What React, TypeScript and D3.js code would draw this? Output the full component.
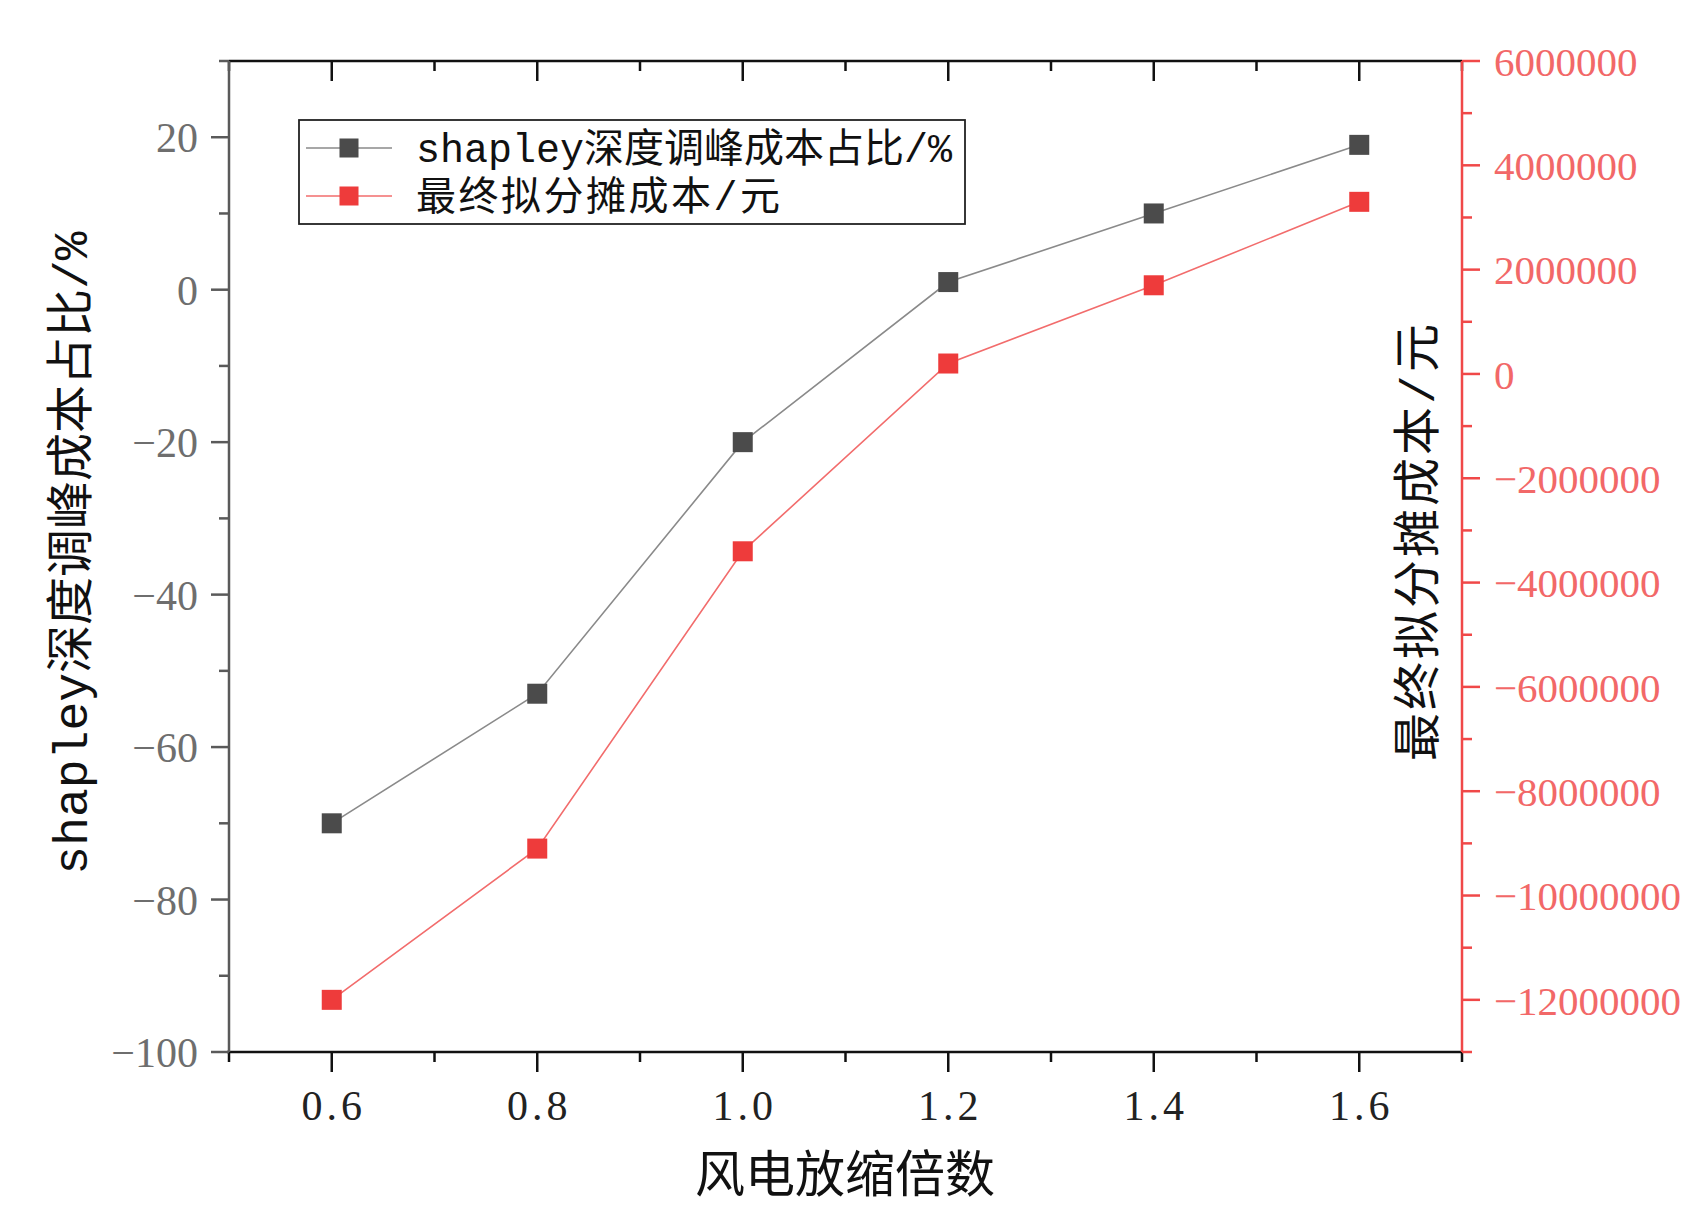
import React from "react";
import * as d3 from "d3";

// ---- data ----
const scaleFactors = [0.6, 0.8, 1.0, 1.2, 1.4, 1.6];
const shapleyShare = [-70, -53, -20, 1, 10, 19];
const finalCost = [-12000000, -9100000, -3400000, 200000, 1700000, 3300000];

const xMajorTicks = [0.6, 0.8, 1.0, 1.2, 1.4, 1.6];
const xMinorTicks = [0.5, 0.7, 0.9, 1.1, 1.3, 1.5, 1.7];
const leftMajorTicks = [-100, -80, -60, -40, -20, 0, 20];
const leftMinorTicks = [-90, -70, -50, -30, -10, 10, 30];
const rightMajorTicks = [-12000000, -10000000, -8000000, -6000000, -4000000, -2000000, 0, 2000000, 4000000, 6000000];
const rightMinorTicks = [-13000000, -11000000, -9000000, -7000000, -5000000, -3000000, -1000000, 1000000, 3000000, 5000000];

const seriesNames = ["shapley深度调峰成本占比/%", "最终拟分摊成本/元"];
const xTitle = "风电放缩倍数";
const leftTitle = "shapley深度调峰成本占比/%";
const rightTitle = "最终拟分摊成本/元";

// ---- layout ----
const W = 1688;
const H = 1208;
const L = 229, R = 1462, T = 61, B = 1052;

const BLACK_MARK = "#4b4b4b";
const BLACK_LINE = "#8a8a8a";
const RED_MARK = "#ee3b3b";
const RED_LINE = "#f26c6c";
const RED_AXIS = "#f04848";
const RED_LABEL = "#f26868";
const GRAY_AXIS = "#5a5a5a";
const GRAY_LABEL = "#6e6e6e";

const SERIF = "'Liberation Serif', 'Times New Roman', serif";
const MIXED = "'Liberation Mono', 'Noto Sans CJK SC', monospace";
const CJK = "'Noto Sans CJK SC', sans-serif";

export default function App() {
  const x = d3.scaleLinear().domain([0.5, 1.7]).range([L, R]);
  const yL = d3.scaleLinear().domain([-100, 30]).range([B, T]);
  const yR = d3.scaleLinear().domain([-13000000, 6000000]).range([B, T]);

  const fmtX = d3.format(".1f");
  const fmtL = d3.format("d");
  const fmtR = d3.format("d");

  const blackPts: [number, number][] = scaleFactors.map((v, i) => [x(v), yL(shapleyShare[i])]);
  const redPts: [number, number][] = scaleFactors.map((v, i) => [x(v), yR(finalCost[i])]);
  const line = d3.line();

  const M = 20; // marker size
  const LM = 19;

  const legendX = 299, legendY = 120, legendW = 666, legendH = 104;
  const row1 = 148, row2 = 196;

  return (
    <svg width={W} height={H} style={{ position: "absolute", left: 0, top: 0, background: "#fff" }}>
      <rect x={0} y={0} width={W} height={H} fill="#fff" />

      {/* top axis */}
      <line x1={L} x2={R} y1={T} y2={T} stroke="#111" strokeWidth={2.5} />
      {xMajorTicks.map((t) => (
        <line key={"tM" + t} x1={x(t)} x2={x(t)} y1={T} y2={T + 20} stroke="#111" strokeWidth={2.5} />
      ))}
      {xMinorTicks.map((t) => (
        <line key={"tm" + t} x1={x(t)} x2={x(t)} y1={T} y2={T + 10} stroke="#111" strokeWidth={2.5} />
      ))}

      {/* bottom axis */}
      <line x1={L - 2} x2={R} y1={B} y2={B} stroke="#111" strokeWidth={2.5} />
      {xMajorTicks.map((t) => (
        <line key={"bM" + t} x1={x(t)} x2={x(t)} y1={B} y2={B + 20} stroke="#111" strokeWidth={2.5} />
      ))}
      {xMinorTicks.map((t) => (
        <line key={"bm" + t} x1={x(t)} x2={x(t)} y1={B} y2={B + 10} stroke="#111" strokeWidth={2.5} />
      ))}
      {xMajorTicks.map((t) => (
        <text key={"bl" + t} x={x(t) + 2} y={1120} textAnchor="middle" fontFamily={SERIF} fontSize={42}
          letterSpacing={4} fill="#222">{fmtX(t)}</text>
      ))}

      {/* left axis */}
      <line x1={L} x2={L} y1={T} y2={B} stroke={GRAY_AXIS} strokeWidth={2.5} />
      {leftMajorTicks.map((t) => (
        <line key={"lM" + t} x1={L - 18} x2={L} y1={yL(t)} y2={yL(t)} stroke={GRAY_AXIS} strokeWidth={2.5} />
      ))}
      {leftMinorTicks.map((t) => (
        <line key={"lm" + t} x1={L - 10} x2={L} y1={yL(t)} y2={yL(t)} stroke={GRAY_AXIS} strokeWidth={2.5} />
      ))}
      {leftMajorTicks.map((t) => (
        <text key={"ll" + t} x={L - 31} y={yL(t)} dy="0.36em" textAnchor="end" fontFamily={SERIF} fontSize={42}
          fill={GRAY_LABEL}>{fmtL(t)}</text>
      ))}

      {/* right axis */}
      <line x1={R} x2={R} y1={T} y2={B} stroke={RED_AXIS} strokeWidth={2.5} />
      {rightMajorTicks.map((t) => (
        <line key={"rM" + t} x1={R} x2={R + 18} y1={yR(t)} y2={yR(t)} stroke={RED_AXIS} strokeWidth={2.5} />
      ))}
      {rightMinorTicks.map((t) => (
        <line key={"rm" + t} x1={R} x2={R + 10} y1={yR(t)} y2={yR(t)} stroke={RED_AXIS} strokeWidth={2.5} />
      ))}
      {rightMajorTicks.map((t) => (
        <text key={"rl" + t} x={R + 32} y={yR(t)} dy="0.36em" textAnchor="start" fontFamily={SERIF} fontSize={41}
          fill={RED_LABEL}>{fmtR(t)}</text>
      ))}

      {/* series lines */}
      <path d={line(blackPts) || ""} fill="none" stroke={BLACK_LINE} strokeWidth={1.6} />
      <path d={line(redPts) || ""} fill="none" stroke={RED_LINE} strokeWidth={1.6} />
      {blackPts.map((p, i) => (
        <rect key={"bp" + i} x={p[0] - M / 2} y={p[1] - M / 2} width={M} height={M} fill={BLACK_MARK} />
      ))}
      {redPts.map((p, i) => (
        <rect key={"rp" + i} x={p[0] - M / 2} y={p[1] - M / 2} width={M} height={M} fill={RED_MARK} />
      ))}

      {/* legend */}
      <rect x={legendX} y={legendY} width={legendW} height={legendH} fill="#fff" stroke="#222" strokeWidth={1.8} />
      <line x1={306} x2={392} y1={row1} y2={row1} stroke={BLACK_LINE} strokeWidth={1.6} />
      <rect x={349 - LM / 2} y={row1 - LM / 2} width={LM} height={LM} fill={BLACK_MARK} />
      <line x1={306} x2={392} y1={row2} y2={row2} stroke={RED_LINE} strokeWidth={1.6} />
      <rect x={349 - LM / 2} y={row2 - LM / 2} width={LM} height={LM} fill={RED_MARK} />
      <text x={416} y={row1} dy="0.36em" fontFamily={MIXED} fontSize={40} fill="#111">{seriesNames[0]}</text>
      <text x={416} y={row2} dy="0.36em" fontFamily={MIXED} fontSize={40} letterSpacing={2.5} fill="#111">{seriesNames[1]}</text>

      {/* axis titles */}
      <text x={845} y={1174} dy="0.36em" textAnchor="middle" fontFamily={CJK} fontSize={50} fill="#111">{xTitle}</text>
      <text transform={`translate(70,553) rotate(-90)`} dy="0.36em" textAnchor="middle" fontFamily={MIXED}
        fontSize={48} fill="#111">{leftTitle}</text>
      <text transform={`translate(1417,541) rotate(-90)`} dy="0.36em" textAnchor="middle" fontFamily={MIXED}
        fontSize={48} letterSpacing={3} fill="#111">{rightTitle}</text>
    </svg>
  );
}
